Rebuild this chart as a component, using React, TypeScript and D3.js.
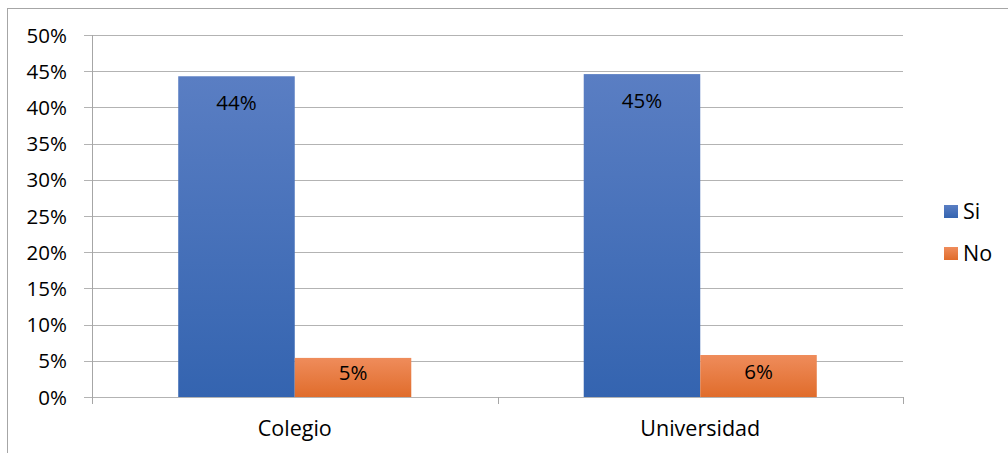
import { useEffect, useRef } from 'react';
import * as d3 from 'd3';

// Chart data
const categories = ['Colegio', 'Universidad'];
const seriesNames = ['Si', 'No'];
const siValues = [0.443, 0.446];
const noValues = [0.054, 0.058];
const valueLabels = [['44%', '5%'], ['45%', '6%']];
const yTicks = [0, 0.05, 0.1, 0.15, 0.2, 0.25, 0.3, 0.35, 0.4, 0.45, 0.5];

const colors: Record<string, [string, string]> = {
  Si: ['#5a7ec3', '#3464b0'],
  No: ['#ef8c5b', '#e06c2b'],
};

export default function App() {
  const svgRef = useRef<SVGSVGElement | null>(null);

  useEffect(() => {
    if (!svgRef.current) return;
    const svg = d3.select(svgRef.current);
    svg.selectAll('*').remove();

    const font = '"Open Sans", Carlito, Calibri, sans-serif';
    const left = 92;
    const right = 903;
    const top = 35;
    const bottom = 397;

    // Gradients
    const defs = svg.append('defs');
    seriesNames.forEach((s) => {
      const g = defs.append('linearGradient')
        .attr('id', `grad-${s}`)
        .attr('x1', 0).attr('y1', 0).attr('x2', 0).attr('y2', 1);
      g.append('stop').attr('offset', '0%').attr('stop-color', colors[s][0]);
      g.append('stop').attr('offset', '100%').attr('stop-color', colors[s][1]);
    });

    // Outer frame
    svg.append('rect')
      .attr('x', 7.5).attr('y', 8.5)
      .attr('width', 1010).attr('height', 460)
      .attr('fill', 'white')
      .attr('stroke', '#a6a6a6')
      .attr('stroke-width', 1);

    // Scales
    const x0 = d3.scaleBand<string>().domain(categories).range([left, right]);
    const x1 = d3.scaleBand<string>()
      .domain(seriesNames)
      .range([0, x0.bandwidth()])
      .paddingInner(0)
      .paddingOuter(0.74);
    const y = d3.scaleLinear().domain([0, 0.5]).range([bottom, top]);

    // Gridlines + y ticks
    const grid = svg.append('g');
    yTicks.forEach((t) => {
      grid.append('line')
        .attr('x1', left - 8).attr('x2', right)
        .attr('y1', Math.round(y(t)) + 0.5).attr('y2', Math.round(y(t)) + 0.5)
        .attr('stroke', '#b3b3b3')
        .attr('stroke-width', 1);
      grid.append('text')
        .attr('x', 67)
        .attr('y', y(t) + 7.5)
        .attr('text-anchor', 'end')
        .attr('font-family', font)
        .attr('font-size', 20.5)
        .attr('fill', '#000')
        .text(d3.format('.0%')(t));
    });

    // Y axis line
    svg.append('line')
      .attr('x1', left + 0.5).attr('x2', left + 0.5)
      .attr('y1', top).attr('y2', bottom + 7)
      .attr('stroke', '#a6a6a6');

    // Bottom axis ticks
    const bounds = [...categories.map((c) => x0(c) as number), right];
    bounds.forEach((b) => {
      svg.append('line')
        .attr('x1', Math.round(b) + 0.5).attr('x2', Math.round(b) + 0.5)
        .attr('y1', bottom).attr('y2', bottom + 7)
        .attr('stroke', '#a6a6a6');
    });

    // Bars
    const rows = categories.map((c, i) => ({
      category: c,
      values: [
        { key: 'Si', value: siValues[i], label: valueLabels[i][0] },
        { key: 'No', value: noValues[i], label: valueLabels[i][1] },
      ],
    }));

    const groups = svg.selectAll('.group')
      .data(rows)
      .enter()
      .append('g')
      .attr('transform', (d) => `translate(${x0(d.category)},0)`);

    const bars = groups.selectAll('.bar')
      .data((d) => d.values)
      .enter();

    bars.append('rect')
      .attr('x', (d) => x1(d.key) as number)
      .attr('y', (d) => y(d.value))
      .attr('width', x1.bandwidth())
      .attr('height', (d) => bottom - y(d.value))
      .attr('fill', (d) => `url(#grad-${d.key})`);

    bars.append('text')
      .attr('x', (d) => (x1(d.key) as number) + x1.bandwidth() / 2)
      .attr('y', (d) => {
        const t = y(d.value);
        return bottom - t > 60 ? t + 34 : (t + bottom) / 2 + 3;
      })
      .attr('text-anchor', 'middle')
      .attr('font-family', font)
      .attr('font-size', 20.5)
      .attr('fill', '#000')
      .text((d) => d.label);

    // Category labels
    categories.forEach((c) => {
      svg.append('text')
        .attr('x', (x0(c) as number) + x0.bandwidth() / 2)
        .attr('y', 436)
        .attr('text-anchor', 'middle')
        .attr('font-family', font)
        .attr('font-size', 21.5)
        .attr('fill', '#000')
        .text(c);
    });

    // Legend
    seriesNames.forEach((s, i) => {
      const ly = 205 + i * 42;
      svg.append('rect')
        .attr('x', 944).attr('y', ly)
        .attr('width', 14).attr('height', 13)
        .attr('fill', `url(#grad-${s})`);
      svg.append('text')
        .attr('x', 963).attr('y', ly + 14)
        .attr('font-family', font)
        .attr('font-size', 21.5)
        .attr('fill', '#000')
        .text(s);
    });
  }, []);

  return (
    <div style={{ position: 'absolute', left: 0, top: 0, width: 1008, height: 453, overflow: 'hidden' }}>
      <svg ref={svgRef} width={1008} height={453} />
    </div>
  );
}
